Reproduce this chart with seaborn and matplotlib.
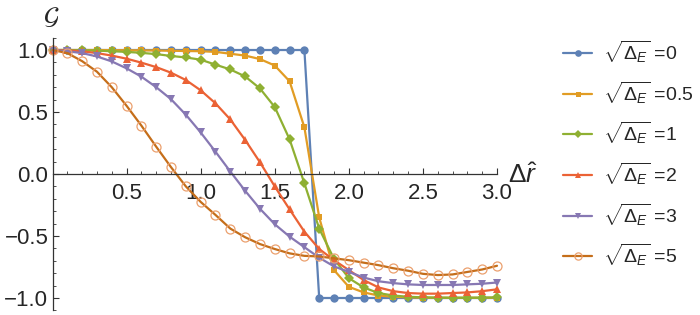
import numpy as np
import pandas as pd
import matplotlib
matplotlib.use("Agg")
import matplotlib.pyplot as plt
import seaborn as sns
from matplotlib.ticker import MultipleLocator, FuncFormatter

# distance grid (markers every 0.1)
dr = [round(0.1 * i, 1) for i in range(31)]

# G(dr), one list per sqrt(Delta_E)
g_0 = [1.0] * 18 + [-1.0] * 13
g_05 = [1.0, 1.0, 1.0, 1.0, 0.999, 0.998, 0.997, 0.996, 0.994, 0.992,
        0.99, 0.985, 0.97, 0.955, 0.927, 0.875, 0.748, 0.377, -0.35, -0.775,
        -0.91, -0.955, -0.98, -0.99, -0.995, -0.997, -0.998, -0.998, -0.998, -0.998, -0.998]
g_1 = [1.0, 1.0, 0.998, 0.995, 0.99, 0.985, 0.977, 0.967, 0.952, 0.94,
       0.922, 0.882, 0.843, 0.787, 0.69, 0.54, 0.28, -0.075, -0.44, -0.685,
       -0.84, -0.915, -0.96, -0.98, -0.99, -0.995, -0.997, -0.998, -0.998, -0.997, -0.995]
g_2 = [1.0, 0.997, 0.99, 0.975, 0.955, 0.93, 0.898, 0.862, 0.817, 0.758,
       0.675, 0.57, 0.44, 0.275, 0.095, -0.10, -0.285, -0.465, -0.605, -0.695,
       -0.775, -0.855, -0.915, -0.945, -0.96, -0.965, -0.965, -0.96, -0.955, -0.945, -0.93]
g_3 = [1.0, 0.99, 0.975, 0.948, 0.908, 0.852, 0.785, 0.70, 0.603, 0.478,
       0.335, 0.18, 0.02, -0.135, -0.28, -0.405, -0.505, -0.59, -0.675, -0.745,
       -0.79, -0.835, -0.865, -0.88, -0.89, -0.895, -0.895, -0.895, -0.89, -0.885, -0.875]
g_5 = [1.0, 0.975, 0.91, 0.825, 0.70, 0.55, 0.39, 0.22, 0.055, -0.10,
       -0.225, -0.33, -0.44, -0.51, -0.565, -0.605, -0.64, -0.66, -0.665, -0.68,
       -0.695, -0.715, -0.735, -0.76, -0.78, -0.805, -0.815, -0.81, -0.79, -0.77, -0.74]

labels = ["0", "0.5", "1", "2", "3", "5"]
series = [g_0, g_05, g_1, g_2, g_3, g_5]
colors = ["#5E81B5", "#E19C24", "#8FB032", "#EB6235", "#8778B3", "#C56E1A"]
markers = ["o", "s", "D", "^", "v", "o"]
msizes = [6.0, 4.5, 5.5, 6.0, 6.0, 6.5]

sns.set_style("ticks")
plt.rcParams["font.family"] = ["Liberation Sans", "DejaVu Sans"]
plt.rcParams["mathtext.fontset"] = "custom"
plt.rcParams["mathtext.rm"] = "Liberation Sans"
plt.rcParams["mathtext.it"] = "Liberation Sans:italic"

fig = plt.figure(figsize=(7, 3.15), dpi=100)
ax = fig.add_axes([0.075, 0.0146, 0.635, 0.866])

for lab, ys, c, m, ms in zip(labels, series, colors, markers, msizes):
    df = pd.DataFrame({"dr": dr, "G": ys})
    kw = dict(marker=m, markersize=ms, color=c, linewidth=1.6,
              markeredgewidth=0 if lab != "5" else 0.9,
              label=r"$\sqrt{\Delta_E}$ =" + lab, clip_on=False)
    if lab == "5":
        kw.update(markerfacecolor="none", markeredgecolor="#EBA06E")
    sns.lineplot(data=df, x="dr", y="G", ax=ax, **kw)

ax.set_xlim(0, 3)
ax.set_ylim(-1.1, 1.1)
ax.spines["left"].set_position(("data", 0))
ax.spines["bottom"].set_position(("data", 0))
ax.spines["top"].set_visible(False)
ax.spines["right"].set_visible(False)
for s in ("left", "bottom"):
    ax.spines[s].set_color("#333333")
    ax.spines[s].set_linewidth(0.9)

ax.set_xticks([0.5, 1.0, 1.5, 2.0, 2.5, 3.0])
ax.set_xticklabels(["0.5", "1.0", "1.5", "2.0", "2.5", "3.0"])
ax.xaxis.set_minor_locator(MultipleLocator(0.1))
ax.set_yticks([-1.0, -0.5, 0.0, 0.5, 1.0])
ax.yaxis.set_major_formatter(FuncFormatter(lambda v, p: f"{v:.1f}".replace("-", "\u2212")))
ax.yaxis.set_minor_locator(MultipleLocator(0.1))
ax.tick_params(which="both", direction="in", color="#333333", labelsize=16)
ax.tick_params(which="major", length=4, width=0.8)
ax.tick_params(which="minor", length=2.2, width=0.6)
ax.tick_params(axis="x", pad=6.5)
ax.tick_params(axis="y", pad=3)
ax.set_xlabel("")
ax.set_ylabel("")

fig.text(51 / 700, 1 - 17 / 315, r"$\mathcal{G}$", fontsize=18, ha="center", va="center",
         math_fontfamily="stix")
fig.text(508 / 700, 1 - 183 / 315, r"$\Delta\hat{r}$", fontsize=19, ha="left", va="baseline")

ax.legend(loc="upper left", bbox_to_anchor=(563 / 700, 0.877), bbox_transform=fig.transFigure,
          frameon=False, fontsize=14, handlelength=1.5, handletextpad=0.57,
          labelspacing=0.74, borderpad=0, borderaxespad=0, markerscale=0.8)

fig.savefig("out.png", dpi=100)
